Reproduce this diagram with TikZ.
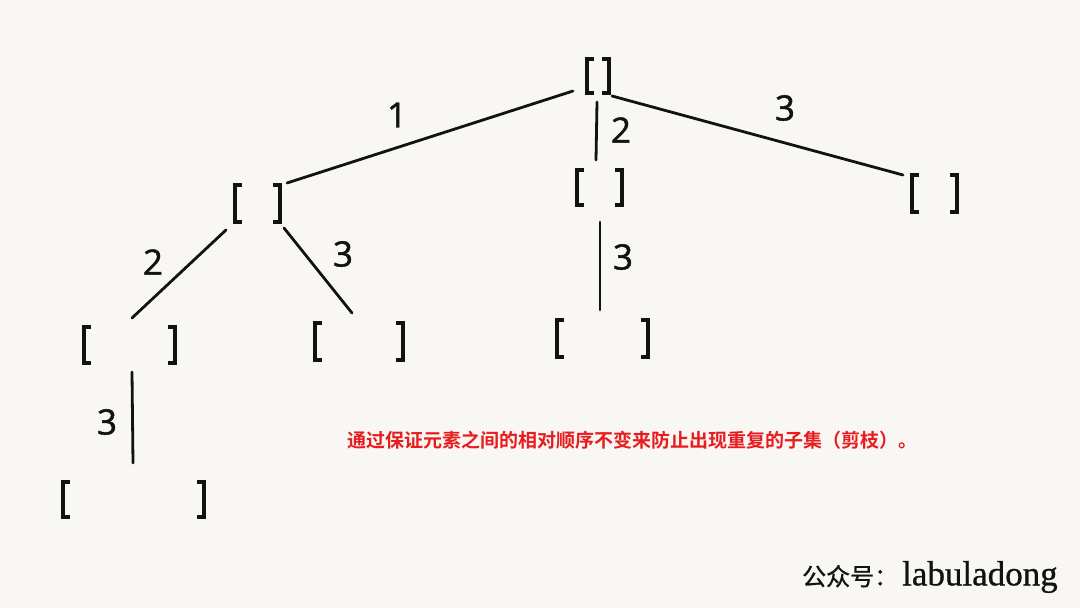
\documentclass[tikz,border=0pt]{standalone}
\usepackage{fontspec}
\setmainfont{Open Sans}
\newfontfamily\numfont[FakeBold=1.2]{Open Sans}
\newfontfamily\cjk[FakeBold=1]{Noto Sans CJK SC}
\newfontfamily\cjkb{Noto Sans CJK SC Bold}
\newfontfamily\wmserif[FakeBold=0.8]{Liberation Serif}
\usetikzlibrary{calc}
\definecolor{bgcol}{RGB}{248,247,243}
\definecolor{inkcol}{RGB}{18,18,18}
\definecolor{notered}{RGB}{232,28,30}
\tikzset{
  setnode/.style={rectangle, draw=none, inner sep=0pt, outer sep=0pt},
  brkline/.style={draw=inkcol, line width=4pt, line cap=butt, line join=miter},
  edgeline/.style={draw=inkcol, line width=2.8pt, line cap=round},
  numlabel/.style={text=inkcol, font=\numfont\fontsize{35}{40}\selectfont, inner sep=0pt},
}
\begin{document}
\begin{tikzpicture}[x=1pt, y=-1pt]
\fill[bgcol] (0,0) rectangle (1080,608);
\useasboundingbox (0,0) rectangle (1080,608);

% set nodes (brackets)
\node[setnode, minimum width=22pt, minimum height=34pt] (root) at (598,76) {};
\node[setnode, minimum width=45pt, minimum height=37pt] (A) at (257.5,203.5) {};
\node[setnode, minimum width=45pt, minimum height=35pt] (B) at (599.5,187.5) {};
\node[setnode, minimum width=45pt, minimum height=37pt] (C) at (934.5,193.5) {};
\node[setnode, minimum width=91pt, minimum height=36pt] (AA) at (129.5,345) {};
\node[setnode, minimum width=88pt, minimum height=37pt] (AB) at (359,341.5) {};
\node[setnode, minimum width=91pt, minimum height=37pt] (BC) at (602.5,338.5) {};
\node[setnode, minimum width=141pt, minimum height=35pt] (AAA) at (133.5,499.5) {};

\foreach \n in {root,A,B,C,AA,AB,BC,AAA}{
  \draw[brkline] ([xshift=7pt]\n.north west) -- (\n.north west) -- (\n.south west) -- ([xshift=7pt]\n.south west);
  \draw[brkline] ([xshift=-7pt]\n.north east) -- (\n.north east) -- (\n.south east) -- ([xshift=-7pt]\n.south east);
}

% edges
\draw[edgeline] ([shift={(-14,-2)}]root.south west) -- ([shift={(7,-2)}]A.north east);
\draw[edgeline] ([shift={(-1,9)}]root.south) -- ([shift={(-3.5,-10)}]B.north);
\draw[edgeline] ([shift={(3,3)}]root.south east) -- ([shift={(-9,0)}]C.north west);
\draw[edgeline] ([shift={(-9,8)}]A.south west) -- ([shift={(2.5,-9)}]AA.north);
\draw[edgeline] ([shift={(4,6)}]A.south east) -- ([shift={(-7,-10)}]AB.north);
\draw[edgeline] ([shift={(0.5,17)}]B.south) -- ([shift={(-2.5,-10)}]BC.north);
\draw[edgeline] ([shift={(2.5,9)}]AA.south) -- ([shift={(-0.5,-19)}]AAA.north);

% edge labels
\node[numlabel] (l1) at (397,115) {1};
\node[numlabel] (l2) at (621,130) {2};
\node[numlabel] (l3) at (785,108) {3};
\node[numlabel] (l4) at (153,262) {2};
\node[numlabel] (l5) at (343,254) {3};
\node[numlabel] (l6) at (623,257) {3};
\node[numlabel] (l7) at (107,422) {3};

% note
\node[anchor=west, inner sep=0pt, text=notered, font=\cjkb\fontsize{19}{22}\selectfont] (note) at (347,440) {通过保证元素之间的相对顺序不变来防止出现重复的子集（剪枝）。};

% watermark
\node[anchor=west, inner sep=0pt, text=inkcol] (wm) at (802,577) {{\cjk\fontsize{24}{26}\selectfont 公众号：}\hspace{4pt}{\wmserif\fontsize{35}{38}\selectfont labuladong}};
\end{tikzpicture}
\end{document}
